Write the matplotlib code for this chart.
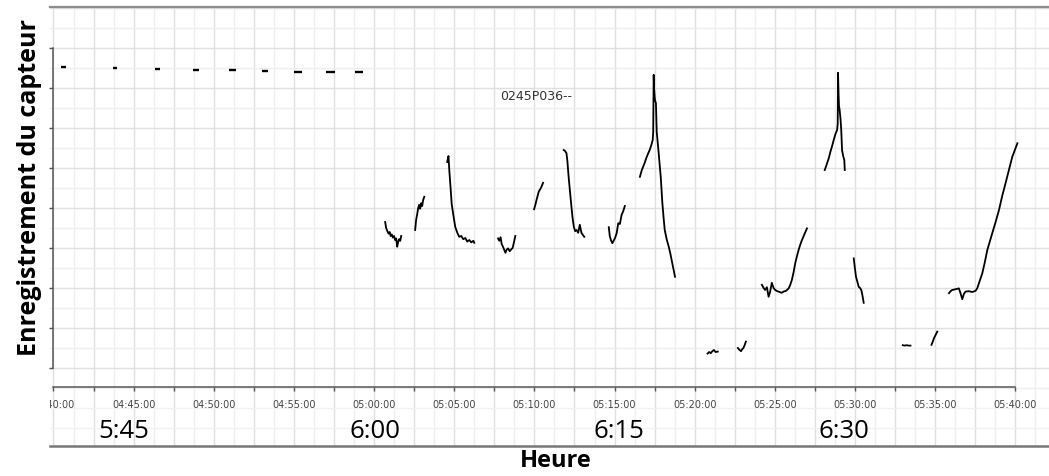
import numpy as np
import matplotlib
matplotlib.use("Agg")
import matplotlib.pyplot as plt

# time axis: minutes after 04:40:00, y axis: sensor reading (tick units, no labels)
tick_minutes = [0, 5, 10, 15, 20, 25, 30, 35, 40, 45, 50, 55, 60]
tick_labels = ["04:40:00", "04:45:00", "04:50:00", "04:55:00", "05:00:00", "05:05:00",
               "05:10:00", "05:15:00", "05:20:00", "05:25:00", "05:30:00", "05:35:00", "05:40:00"]

# short flat records at the top (start, end, level)
dash_start = [0.44, 3.69, 6.31, 8.69, 10.94, 13.0, 15.0, 17.0, 18.8]
dash_end = [0.75, 3.94, 6.63, 9.06, 11.38, 13.4, 15.5, 17.56, 19.3]
dash_level = [7.53, 7.50, 7.475, 7.45, 7.44, 7.43, 7.40, 7.40, 7.40]

seg_a_t = [20.69, 20.75, 20.83, 20.9, 20.97, 21.03, 21.1, 21.17, 21.25, 21.31, 21.38, 21.44, 21.5, 21.56, 21.63, 21.69]
seg_a_v = [3.65, 3.5, 3.42, 3.36, 3.4, 3.3, 3.34, 3.26, 3.3, 3.2, 3.24, 3.03, 3.15, 3.22, 3.18, 3.3]

seg_b_t = [22.56, 22.62, 22.69, 22.75, 22.81, 22.87, 22.94, 23.0, 23.06, 23.13]
seg_b_v = [3.45, 3.7, 3.85, 4.0, 4.08, 3.98, 4.12, 4.05, 4.2, 4.28]

seg_c_t = [24.56, 24.64, 24.69, 24.78, 24.84, 24.94, 25.06, 25.19, 25.31, 25.44, 25.56, 25.69, 25.81, 25.94, 26.06, 26.19, 26.25]
seg_c_v = [5.15, 5.3, 4.95, 4.45, 4.1, 3.83, 3.53, 3.38, 3.28, 3.3, 3.22, 3.25, 3.16, 3.2, 3.14, 3.18, 3.13]

seg_d_t = [27.73, 27.81, 27.89, 27.96, 28.04, 28.12, 28.19, 28.27, 28.36, 28.46, 28.56, 28.64, 28.71, 28.81]
seg_d_v = [3.24, 3.18, 3.27, 3.1, 3.03, 2.95, 2.88, 2.96, 2.99, 2.92, 2.97, 3.0, 3.12, 3.3]

seg_e_t = [29.98, 30.06, 30.13, 30.2, 30.27, 30.36, 30.44, 30.54]
seg_e_v = [3.97, 4.08, 4.2, 4.3, 4.41, 4.47, 4.53, 4.63]

seg_f_t = [31.83, 31.92, 32.0, 32.06, 32.13, 32.21, 32.31, 32.38, 32.46, 32.54, 32.63, 32.73, 32.83, 32.94, 33.02, 33.11]
seg_f_v = [5.45, 5.42, 5.37, 5.16, 4.8, 4.45, 4.03, 3.75, 3.53, 3.42, 3.45, 3.38, 3.58, 3.37, 3.33, 3.28]

seg_g_t = [34.64, 34.7, 34.77, 34.86, 34.94, 35.03, 35.13, 35.23, 35.33, 35.44, 35.54, 35.64]
seg_g_v = [3.52, 3.3, 3.2, 3.12, 3.18, 3.25, 3.37, 3.62, 3.6, 3.83, 3.92, 4.05]

seg_h_t = [36.58, 36.7, 36.8, 36.88, 36.98, 37.08, 37.19, 37.3, 37.38, 37.41, 37.44, 37.47, 37.52, 37.58,
           37.63, 37.7, 37.75, 37.82, 37.88, 37.98, 38.06, 38.13, 38.25, 38.38, 38.47, 38.56, 38.66, 38.77]
seg_h_v = [4.78, 4.95, 5.05, 5.13, 5.25, 5.35, 5.45, 5.58, 5.7, 5.9, 7.33, 6.95, 6.7, 6.62,
           5.9, 5.6, 5.38, 5.05, 4.78, 4.13, 3.75, 3.45, 3.22, 3.03, 2.88, 2.7, 2.5, 2.28]

seg_j_t = [40.8, 40.9, 41.0, 41.1, 41.2, 41.3, 41.44]
seg_j_v = [0.36, 0.4, 0.37, 0.42, 0.45, 0.4, 0.41]

seg_k_t = [42.69, 42.8, 42.89, 42.96, 43.04, 43.12, 43.19]
seg_k_v = [0.5, 0.45, 0.42, 0.47, 0.5, 0.58, 0.66]

seg_l_t = [44.19, 44.3, 44.39, 44.5, 44.61, 44.7, 44.81, 44.92, 45.02, 45.15, 45.3, 45.42, 45.54,
           45.7, 45.86, 45.96, 46.06, 46.17, 46.27, 46.38, 46.48, 46.58, 46.69, 46.85, 47.0]
seg_l_v = [2.08, 2.0, 1.95, 2.02, 1.78, 1.9, 2.13, 2.0, 1.95, 1.92, 1.9, 1.88, 1.91,
           1.93, 1.99, 2.08, 2.2, 2.4, 2.62, 2.8, 2.95, 3.08, 3.2, 3.35, 3.49]

seg_m_t = [48.11, 48.2, 48.28, 48.36, 48.46, 48.57, 48.67, 48.78, 48.88, 48.92, 48.94, 48.97, 49.0, 49.04,
           49.1, 49.14, 49.19, 49.26, 49.33, 49.36]
seg_m_v = [4.95, 5.05, 5.15, 5.24, 5.4, 5.55, 5.7, 5.85, 5.95, 6.1, 7.38, 6.9, 6.55, 6.45,
           6.2, 5.95, 5.45, 5.3, 5.2, 4.95]

seg_n_t = [49.92, 49.99, 50.06, 50.15, 50.23, 50.31, 50.39, 50.47, 50.54]
seg_n_v = [2.74, 2.5, 2.28, 2.15, 2.03, 2.0, 1.95, 1.8, 1.63]

seg_o_t = [52.98, 53.1, 53.22, 53.34, 53.46]
seg_o_v = [0.57, 0.56, 0.57, 0.56, 0.56]

seg_p_t = [54.77, 54.85, 54.92, 55.02, 55.13]
seg_p_v = [0.58, 0.66, 0.74, 0.82, 0.91]

seg_q_t = [55.86, 55.96, 56.06, 56.27, 56.48, 56.58, 56.69, 56.79, 56.89, 57.1, 57.31, 57.52, 57.63, 57.73,
           57.84, 57.94, 58.1, 58.25, 58.4, 58.56, 58.77, 58.98, 59.18, 59.39, 59.6, 59.81, 59.97, 60.13]
seg_q_v = [1.87, 1.92, 1.95, 1.97, 1.99, 1.87, 1.72, 1.85, 1.91, 1.92, 1.9, 1.93, 2.0, 2.12,
           2.25, 2.37, 2.65, 2.95, 3.15, 3.37, 3.65, 3.95, 4.3, 4.62, 4.95, 5.28, 5.45, 5.62]

segments = [(seg_a_t, seg_a_v), (seg_b_t, seg_b_v), (seg_c_t, seg_c_v), (seg_d_t, seg_d_v),
            (seg_e_t, seg_e_v), (seg_f_t, seg_f_v), (seg_g_t, seg_g_v), (seg_h_t, seg_h_v),
            (seg_j_t, seg_j_v), (seg_k_t, seg_k_v), (seg_l_t, seg_l_v), (seg_m_t, seg_m_v),
            (seg_n_t, seg_n_v), (seg_o_t, seg_o_v), (seg_p_t, seg_p_v), (seg_q_t, seg_q_v)]

clock_labels = ["5:45", "6:00", "6:15", "6:30"]
clock_pos = [4.4, 20.05, 35.27, 49.28]

fig = plt.figure(figsize=(10.49, 4.76), dpi=100)
ax = fig.add_axes([50 / 1049, 30 / 476, 999 / 1049, 439 / 476])

x_lo, x_hi = -0.218, 62.1
y_lo, y_hi = -1.95, 9.025
ax.set_xlim(x_lo, x_hi)
ax.set_ylim(y_lo, y_hi)

# grid: light lines every 1.25 min / 0.5 unit, slightly darker on the ticks
for gx in np.arange(0, x_hi, 1.25):
    major = abs(gx / 2.5 - round(gx / 2.5)) < 1e-6
    ax.axvline(gx, color="#e0e0e0" if major else "#eeeeee", lw=1.0, zorder=0)
for gy in np.arange(-1.5, y_hi, 0.5):
    major = abs(gy - round(gy)) < 1e-6
    col = "#e0e0e0" if major else "#eeeeee"
    if gy < -0.6:
        col = "#f2f2f2"
    ax.axhline(gy, color=col, lw=1.0, zorder=0)

# data
for s, e, lvl in zip(dash_start, dash_end, dash_level):
    ax.plot([s, e], [lvl, lvl], color="black", lw=1.7, solid_capstyle="butt", zorder=3)
for t, v in segments:
    ax.plot(t, v, color="black", lw=1.3, zorder=3)

ax.text(30.1, 6.78, "0245P036--", fontsize=9, color="#333333", ha="center", va="center")

for lab, pos in zip(clock_labels, clock_pos):
    ax.text(pos, -1.575, lab, fontsize=18.5, family="Open Sans", color="black",
            ha="center", va="center", zorder=4)

# spines
spine_col = "#555555"
ax.spines["top"].set_color("#8c8c8c")
ax.spines["top"].set_linewidth(1.6)
ax.spines["right"].set_visible(False)
ax.spines["left"].set_position(("data", 0))
ax.spines["left"].set_bounds(0, 8)
ax.spines["left"].set_color(spine_col)
ax.spines["left"].set_linewidth(1.1)
ax.spines["bottom"].set_position(("data", -0.47))
ax.spines["bottom"].set_bounds(0, 60)
ax.spines["bottom"].set_color(spine_col)
ax.spines["bottom"].set_linewidth(1.1)
ax.plot([0, 1], [0, 0], transform=ax.transAxes, color="#777777", lw=1.8, clip_on=False, zorder=5)

ax.set_yticks(np.arange(0, 9, 1))
ax.set_yticklabels([])
ax.tick_params(axis="y", direction="out", length=3, width=1.0, color=spine_col)

ax.set_xticks(tick_minutes)
ax.set_xticks(np.arange(2.5, 60, 5), minor=True)
ax.set_xticklabels(tick_labels, fontsize=7, color="#444444")
ax.tick_params(axis="x", which="both", direction="out", length=3, width=1.0, color=spine_col, pad=6.5)

# the first label is cut at the left edge of the chart
for tick in ax.xaxis.get_major_ticks():
    tick.label1.set_clip_box(ax.bbox)
    tick.label1.set_clip_on(True)

fig.text(30 / 1049, 1 - 188 / 476, "Enregistrement du capteur", rotation=90, fontsize=18,
         fontweight="bold", family="Open Sans", ha="center", va="center")
fig.text(556 / 1049, 1 - 461 / 476, "Heure", fontsize=17, fontweight="bold", family="Open Sans",
         ha="center", va="center")

fig.savefig("out.png", dpi=100)
